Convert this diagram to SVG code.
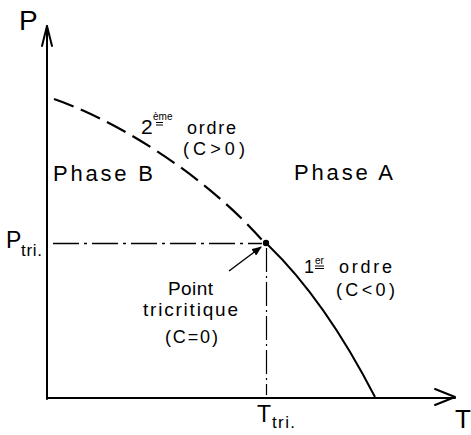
<svg xmlns="http://www.w3.org/2000/svg" width="471" height="435" viewBox="0 0 471 435">
<style>
text{font-family:"Liberation Sans",Arial,sans-serif;fill:#000}
.ax{stroke:#000;stroke-width:2;fill:none;stroke-linecap:round;stroke-linejoin:round}
.ln{stroke:#000;fill:none}
</style>
<defs>
<marker id="ah" markerWidth="10" markerHeight="8" refX="9" refY="4" orient="auto" markerUnits="userSpaceOnUse">
<path d="M0,0 L10,4 L0,8 Z" fill="#000"/>
</marker>
</defs>
<rect width="471" height="435" fill="#fff"/>
<g id="connectors">
<g id="axes">
<path class="ax" d="M47,399 V26"/>
<path class="ax" d="M42,46 L47,26 L52,46"/>
<path class="ax" d="M47,398 H455"/>
<path class="ax" d="M435,389 L455,397 L435,405"/>
</g>
<path id="second-order" class="ln" stroke-width="2.2" stroke-dasharray="21 8" d="M54,99 C110,118 200,170 262,240"/>
<path id="first-order" class="ln" stroke-width="2" d="M268,245 Q325,300 375,397"/>
<path id="p-tri-line" class="ln" stroke-width="1.5" stroke-dasharray="26 5 3 5" d="M53,243.5 H262"/>
<path id="t-tri-line" class="ln" stroke-width="1.2" stroke-dasharray="24 4 2 4" d="M266.5,248 V395"/>
<path id="pointer" class="ln" stroke-width="1.4" d="M229,271 L261,247" marker-end="url(#ah)"/>
</g>
<g id="tricritical-point"><circle cx="266" cy="243" r="3.2" fill="#000"/></g>
<g id="label-P"><text x="19" y="30" font-size="28">P</text></g>
<g id="label-T"><text x="455" y="428" font-size="26">T</text></g>
<g id="phase-B"><text x="53" y="181" font-size="22" textLength="100" lengthAdjust="spacing">Phase B</text></g>
<g id="phase-A"><text x="294" y="180" font-size="22" textLength="99" lengthAdjust="spacing">Phase A</text></g>
<g id="label-2nd-order">
<text x="141" y="134" font-size="21">2</text>
<text x="153" y="120" font-size="10">ème</text>
<path class="ln" stroke-width="1" d="M156,122.5 H163 M156,125 H163"/>
<text x="187" y="134" font-size="18" textLength="49" lengthAdjust="spacing">ordre</text>
<text x="183" y="155" font-size="18" textLength="62" lengthAdjust="spacing">(C&gt;0)</text>
</g>
<g id="label-1st-order">
<text x="304" y="273" font-size="18">1</text>
<text x="315" y="264" font-size="10">er</text>
<path class="ln" stroke-width="1" d="M315,266 H324 M315,268.5 H324"/>
<text x="339" y="273" font-size="18" textLength="53" lengthAdjust="spacing">ordre</text>
<text x="336" y="296" font-size="18" textLength="59" lengthAdjust="spacing">(C&lt;0)</text>
</g>
<g id="label-tricritical">
<text x="168" y="295" font-size="19" textLength="45" lengthAdjust="spacing">Point</text>
<text x="143" y="316" font-size="19" textLength="95" lengthAdjust="spacing">tricritique</text>
<text x="165" y="343" font-size="18" textLength="53" lengthAdjust="spacing">(C=0)</text>
</g>
<g id="label-Ptri">
<text x="6" y="248" font-size="23">P</text>
<text x="21" y="256" font-size="17" textLength="21" lengthAdjust="spacing">tri.</text>
</g>
<g id="label-Ttri">
<text x="257" y="422" font-size="23">T</text>
<text x="272" y="428" font-size="17" textLength="23" lengthAdjust="spacing">tri.</text>
</g>
</svg>
